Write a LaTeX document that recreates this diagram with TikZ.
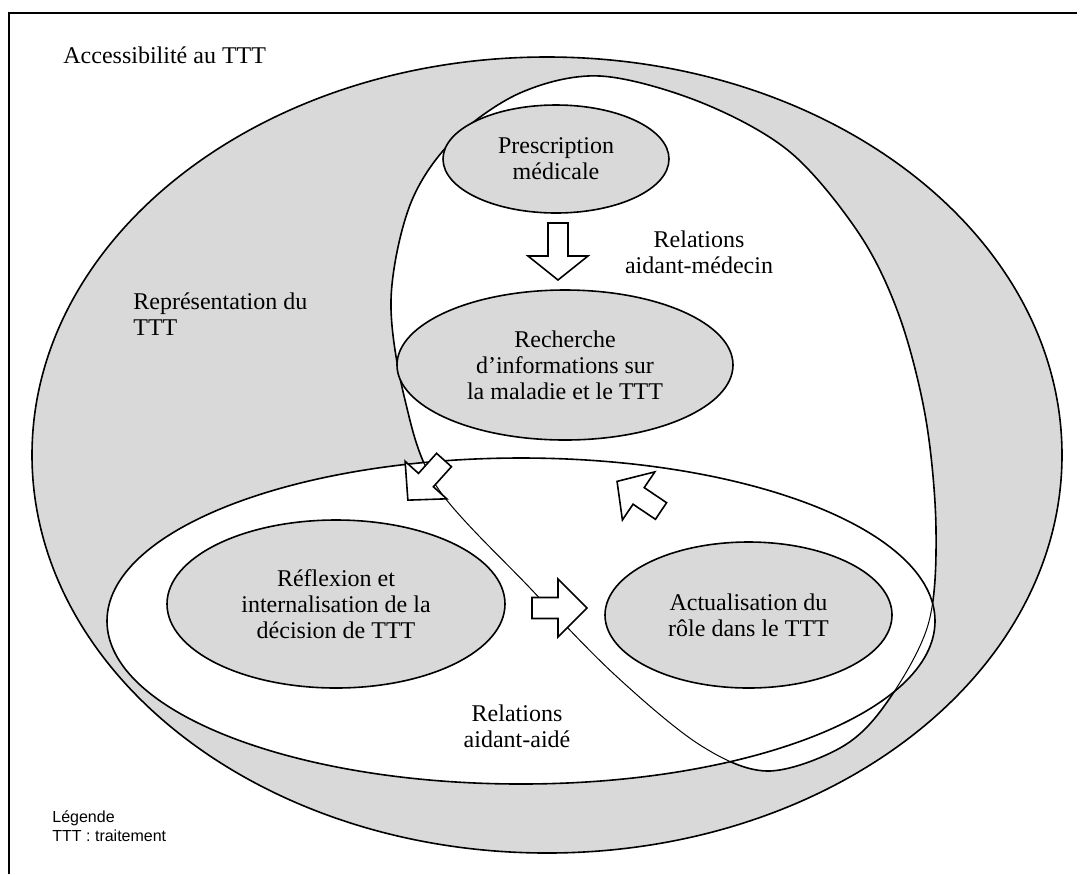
\documentclass[tikz,border=0pt]{standalone}
\usepackage{fontspec}
\setmainfont{Liberation Serif}
\newfontfamily\legendfont{Liberation Sans}
\usetikzlibrary{shapes.geometric}
\definecolor{fillgray}{HTML}{D9D9D9}
\tikzset{
  thickline/.style={draw=black, line width=0.8pt},
  thinline/.style={draw=black, line width=0.5pt},
  gell/.style={ellipse, draw=black, line width=0.8pt, fill=fillgray, inner sep=0pt, align=center, font=\fontsize{12}{13}\selectfont},
  txt/.style={inner sep=0pt, font=\fontsize{12}{13}\selectfont},
  legend/.style={inner sep=0pt, align=left, font=\legendfont\fontsize{8}{9.5}\selectfont},
  arrowshape/.style={draw=black, fill=white, line width=0.8pt, line join=miter},
  frameline/.style={draw=black, line width=0.9pt}
}
% tail point, angle, length, shaft half width, head half width, head length
\newcommand\blockarrow[6]{%
  \draw[arrowshape, shift={(#1)}, rotate=#2] (0,#4) -- ({#3-#6},#4) -- ({#3-#6},#5) -- (#3,0) -- ({#3-#6},-#5) -- ({#3-#6},-#4) -- (0,-#4) -- cycle;}
\begin{document}
\begin{tikzpicture}[x=0.5pt, y=-0.5pt]
\useasboundingbox (0,0) rectangle (1086,874);
% outer grey ellipse: representation du TTT
\draw[thickline, fill=fillgray] (547,455) ellipse [x radius=257.5pt, y radius=199pt];
% tilted white region: relations aidant-medecin
\draw[thickline, fill=white] plot[smooth cycle, tension=0.55] coordinates {
 (600,76) (700,102) (790,152) (860,235) (900,318) (926,420) (936,530) (928,625)
 (885,705) (840,748) (767,771) (700,745) (615,675) (530,588) (437,487) (405,400)
 (391,300) (410,205) (452,141) (520,93)};
% horizontal white region: relations aidant-aide
\draw[thickline, fill=white] (521,621) ellipse [x radius=207pt, y radius=81.5pt];
\begin{scope}
\clip (521,621) ellipse [x radius=207pt, y radius=81.5pt];
\draw[thinline] plot[smooth cycle, tension=0.55] coordinates {
 (600,76) (700,102) (790,152) (860,235) (900,318) (926,420) (936,530) (928,625)
 (885,705) (840,748) (767,771) (700,745) (615,675) (530,588) (437,487) (405,400)
 (391,300) (410,205) (452,141) (520,93)};
\end{scope}
% grey ellipses
\node[gell, minimum width=113pt, minimum height=54pt] (presc) at (556,159) {Prescription\\médicale};
\node[gell, minimum width=168pt, minimum height=75pt] (rech) at (565,365) {Recherche\\d’informations sur\\la maladie et le TTT};
\node[gell, minimum width=169pt, minimum height=84pt] (refl) at (336,604) {Réflexion et\\internalisation de la\\décision de TTT};
\node[gell, minimum width=143.5pt, minimum height=73pt] (actu) at (748.5,615) {Actualisation du\\rôle dans le TTT};
% block arrows
\blockarrow{558,223}{-90}{57}{10}{30}{24}
\blockarrow{444,460}{228}{54}{10}{28}{27}
\blockarrow{532,608}{0}{55}{10.5}{29}{29}
\blockarrow{661,511}{146}{53}{10}{29}{26}
% labels (base anchor of a multi-line node = last line)
\node[txt, anchor=base west] (access) at (63,63) {Accessibilité au TTT};
\node[txt, align=left, anchor=base west] (repr) at (133,335) {Représentation du\\TTT};
\node[txt, align=center, anchor=base] (relmed) at (699,273) {Relations\\aidant-médecin};
\node[txt, align=center, anchor=base] (relaide) at (517,747) {Relations\\aidant-aidé};
\node[legend, anchor=base west] (leg) at (52,841) {Légende\\TTT : traitement};
% frame
\draw[frameline] (9,874) -- (9,13) -- (1077,13);
\end{tikzpicture}
\end{document}
